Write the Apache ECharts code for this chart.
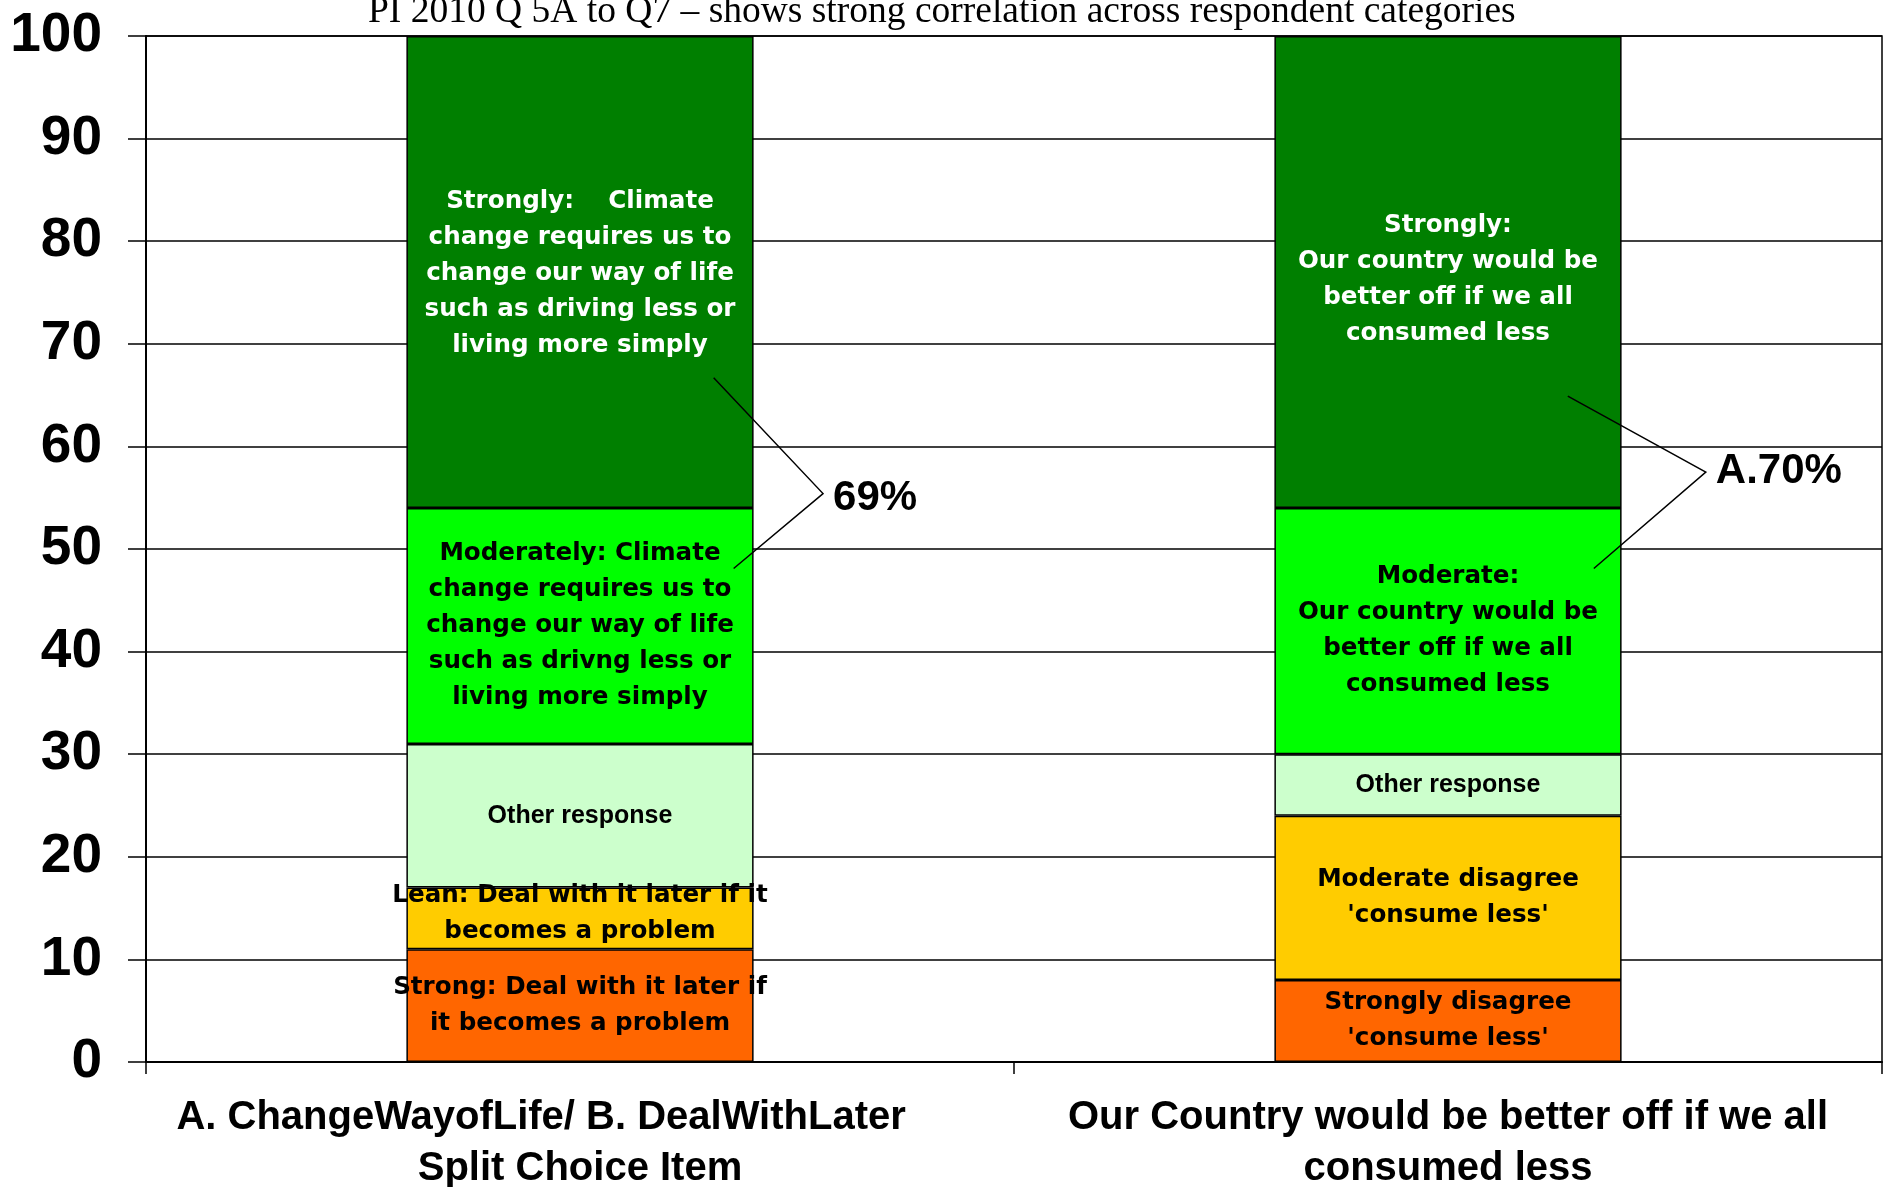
<!DOCTYPE html>
<html>
<head>
<meta charset="utf-8">
<title>PI 2010 Q 5A to Q7</title>
<script src="https://cdn.jsdelivr.net/npm/echarts@6/dist/echarts.min.js"></script>
<style>
  html, body { margin: 0; padding: 0; background: #fff; }
  #chart { width: 1892px; height: 1187px; }
</style>
</head>
<body>
<div id="chart"></div>
<script>
// categories (x axis); the first label carries trailing spaces as in the original
const categories = [
    'A. ChangeWayofLife/ B. DealWithLater\u00a0\u00a0\u00a0\u00a0\u00a0\u00a0\u00a0\nSplit Choice Item',
    'Our Country would be better off if we all\nconsumed less'
];

// stacked percentages, bottom to top
const strongDisagree = [11, 8];
const moderateDisagree = [6, 16];
const otherResponse = [14, 6];
const moderateAgree = [23, 24];
const strongAgree = [46, 46];

// text written inside each segment
const strongDisagreeText = ['Strong: Deal with it later if\nit becomes a problem', "Strongly disagree\n'consume less'"];
const moderateDisagreeText = ['Lean: Deal with it later if it\nbecomes a problem', "Moderate disagree\n'consume less'"];
const otherText = ['Other response', 'Other response'];
const moderateAgreeText = [
    'Moderately: Climate\nchange requires us to\nchange our way of life\nsuch as drivng less or\nliving more simply',
    'Moderate:\nOur country would be\nbetter off if we all\nconsumed less'
];
const strongAgreeText = [
    'Strongly:    Climate\nchange requires us to\nchange our way of life\nsuch as driving less or\nliving more simply',
    'Strongly:\nOur country would be\nbetter off if we all\nconsumed less'
];

// bracket callouts: agree total per bar
const bracketTotals = ['69%', 'A.70%'];

const yTicks = { min: 0, max: 100, interval: 10 };

const seriesDefs = [
    { name: 'Strongly disagree', values: strongDisagree, texts: strongDisagreeText, color: '#FF6600', textColor: '#000' },
    { name: 'Moderately disagree', values: moderateDisagree, texts: moderateDisagreeText, color: '#FFCC00', textColor: '#000', offsets: [[0, -5], null] },
    { name: 'Other response', values: otherResponse, texts: otherText, color: '#CCFFCC', textColor: '#000', plain: true },
    { name: 'Moderately agree', values: moderateAgree, texts: moderateAgreeText, color: '#00FF00', textColor: '#000' },
    { name: 'Strongly agree', values: strongAgree, texts: strongAgreeText, color: '#007F00', textColor: '#fff', offsets: [[0, 2], [0, 8]] }
];

// bracket geometry: x as fraction of band width from bar centre, y in axis values
const brackets = [
    { cat: 0, from: [0.154, 66.7], apex: [0.280, 55.4], to: [0.177, 48.1], dy: 5 },
    { cat: 1, from: [0.138, 64.9], apex: [0.297, 57.5], to: [0.168, 48.1], dy: -1 }
];

function buildSeries() {
    return seriesDefs.map(d => ({
        name: d.name,
        type: 'bar',
        stack: 'total',
        barWidth: '40%',
        data: d.values.map((v, i) => {
            if (d.offsets && d.offsets[i]) {
                return { value: v, label: { offset: d.offsets[i] } };
            }
            return v;
        }),
        itemStyle: {
            color: d.color,
            borderColor: '#000',
            borderWidth: 1.5
        },
        label: {
            show: true,
            position: 'inside',
            formatter: p => d.texts[p.dataIndex],
            color: d.textColor,
            fontFamily: d.plain ? '"Liberation Sans", Arial, sans-serif' : '"DejaVu Sans", sans-serif',
            fontWeight: 'bold',
            fontSize: d.plain ? 25 : 24.6,
            lineHeight: 36,
            align: 'center'
        },
        emphasis: { disabled: true }
    }));
}

function drawBrackets(chart) {
    const c0 = chart.convertToPixel({ gridIndex: 0 }, [0, 0]);
    const c1 = chart.convertToPixel({ gridIndex: 0 }, [1, 0]);
    const band = c1[0] - c0[0];
    const toPx = (b, p) => {
        const base = chart.convertToPixel({ gridIndex: 0 }, [b.cat, p[1]]);
        return [base[0] + p[0] * band, base[1]];
    };
    const graphic = [];
    brackets.forEach((b, i) => {
        const apex = toPx(b, b.apex);
        graphic.push({
            type: 'polyline',
            z: 100,
            shape: { points: [toPx(b, b.from), apex, toPx(b, b.to)] },
            style: { stroke: '#000', lineWidth: 1.5, fill: null }
        });
        graphic.push({
            type: 'text',
            z: 100,
            x: apex[0] + 10,
            y: apex[1] + b.dy,
            style: {
                text: bracketTotals[i],
                fill: '#000',
                fontFamily: '"Liberation Sans", Arial, sans-serif',
                fontWeight: 'bold',
                fontSize: 42,
                verticalAlign: 'middle'
            }
        });
    });
    chart.setOption({ graphic: graphic });
}

const chart = echarts.init(document.getElementById('chart'), null, { renderer: 'canvas' });

const option = {
    animation: false,
    backgroundColor: '#fff',
    title: {
        text: 'PI 2010 Q 5A to Q7 \u2013 shows strong correlation across respondent categories',
        left: 368,
        top: -6,
        padding: 0,
        textStyle: {
            fontFamily: '"Liberation Serif", "Times New Roman", serif',
            fontWeight: 'normal',
            fontSize: 37.5,
            lineHeight: 36,
            color: '#000'
        }
    },
    grid: {
        left: 146,
        right: 10,
        top: 36,
        bottom: 125,
        containLabel: false,
        outerBoundsMode: 'none',
        show: true,
        borderColor: '#000',
        borderWidth: 1.5
    },
    xAxis: {
        type: 'category',
        data: categories,
        axisLine: { lineStyle: { color: '#000', width: 2 } },
        axisTick: { show: true, length: 12, lineStyle: { color: '#000', width: 1.5 } },
        axisLabel: {
            interval: 0,
            margin: 30,
            color: '#000',
            fontFamily: '"Liberation Sans", Arial, sans-serif',
            fontWeight: 'bold',
            fontSize: 40,
            lineHeight: 51
        },
        splitLine: { show: false }
    },
    yAxis: {
        type: 'value',
        min: yTicks.min,
        max: yTicks.max,
        interval: yTicks.interval,
        axisLine: { show: true, lineStyle: { color: '#000', width: 2 } },
        axisTick: { show: true, length: 18, lineStyle: { color: '#000', width: 1.5 } },
        axisLabel: {
            margin: 44,
            color: '#000',
            fontFamily: '"Liberation Sans", Arial, sans-serif',
            fontWeight: 'bold',
            fontSize: 55,
            padding: [0, 0, 22, 0]
        },
        splitLine: { show: true, lineStyle: { color: '#000', width: 1.5 } }
    },
    series: buildSeries()
};

chart.setOption(option);
drawBrackets(chart);
window.addEventListener('resize', () => chart.resize());
</script>
</body>
</html>
